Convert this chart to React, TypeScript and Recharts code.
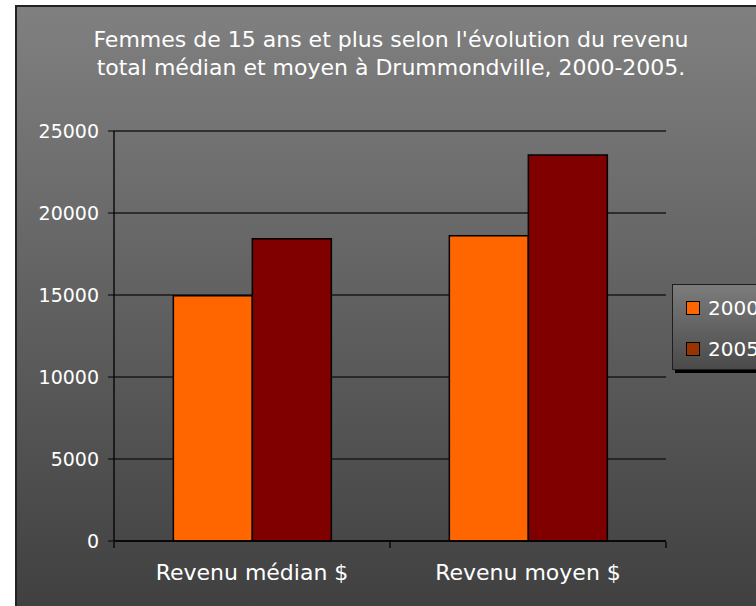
import { Bar, BarChart, CartesianGrid, XAxis, YAxis } from "recharts";

const categories = ["Revenu médian $", "Revenu moyen $"];
const categoryPos = [0.5, 1.5];
const values2000 = [14950, 18620];
const values2005 = [18430, 23540];
const seriesNames = ["2000", "2005"];
const yTicks = [0, 5000, 10000, 15000, 20000, 25000];
const edgeTicks = [0, 1, 2];
const titleLines = [
  "Femmes de 15 ans et plus selon l'évolution du revenu",
  "total médian et moyen à Drummondville, 2000-2005.",
];

const FONT = '"DejaVu Sans", sans-serif';
const barColors = ["#ff6600", "#800000"];
const legendColors = ["#ff6600", "#993300"];

const data = categories.map((name, i) => ({
  name,
  pos: categoryPos[i],
  v2000: values2000[i],
  v2005: values2005[i],
}));

function LegendBox() {
  return (
    <div
      style={{
        position: "absolute",
        left: 672,
        top: 284,
        width: 120,
        height: 84,
        border: "1px solid #1e1e1e",
        background: "linear-gradient(#7c7c7c, #4a4a4a)",
        boxShadow: "3px 3px 0 #000",
      }}
    >
      {seriesNames.map((s, i) => (
        <div
          key={s}
          style={{
            position: "absolute",
            left: 13,
            top: 13 + i * 41,
            display: "flex",
            alignItems: "center",
          }}
        >
          <div
            style={{
              width: 12,
              height: 12,
              background: legendColors[i],
              border: "1px solid #000",
            }}
          />
          <span
            style={{
              marginLeft: 8,
              color: "#fff",
              fontSize: 20,
              fontFamily: FONT,
              lineHeight: "20px",
            }}
          >
            {s}
          </span>
        </div>
      ))}
    </div>
  );
}

export default function App() {
  return (
    <div
      style={{
        position: "fixed",
        left: 0,
        top: 0,
        width: 756,
        height: 606,
        overflow: "hidden",
        background: "#fff",
      }}
    >
      <div
        style={{
          position: "absolute",
          left: 15,
          top: 5,
          width: 800,
          height: 640,
          borderLeft: "2px solid #222",
          borderTop: "2px solid #222",
          background: "linear-gradient(#808080, #3c3c3c)",
        }}
      />
      <div
        style={{
          position: "absolute",
          left: 0,
          top: 26,
          width: 782,
          textAlign: "center",
          color: "#fff",
          fontFamily: FONT,
          fontSize: 22,
          lineHeight: "28px",
        }}
      >
        {titleLines.map((t) => (
          <div key={t}>{t}</div>
        ))}
      </div>
      <div style={{ position: "absolute", left: 0, top: 0 }}>
        <BarChart
          width={756}
          height={606}
          data={data}
          margin={{ top: 131, right: 90, bottom: 25, left: 14 }}
          barGap={0}
          barCategoryGap="21.5%"
        >
          <CartesianGrid vertical={false} stroke="#1a1a1a" strokeWidth={1.3} />
          <XAxis
            dataKey="name"
            height={1}
            axisLine={{ stroke: "#000", strokeWidth: 1.3 }}
            tickLine={false}
            tickMargin={17}
            tick={{ fill: "#fff", fontSize: 22, fontFamily: FONT }}
          />
          <XAxis
            xAxisId="edge"
            dataKey="pos"
            type="number"
            domain={[0, 2]}
            allowDataOverflow
            ticks={edgeTicks}
            height={39}
            axisLine={false}
            tick={() => <g />}
            tickLine={{ stroke: "#000", strokeWidth: 1.3 }}
            tickSize={6}
          />
          <YAxis
            width={100}
            domain={[0, 25000]}
            ticks={yTicks}
            interval={0}
            axisLine={{ stroke: "#000", strokeWidth: 1.3 }}
            tickLine={{ stroke: "#000" }}
            tickSize={6}
            tickMargin={9}
            tick={{ fill: "#fff", fontSize: 19, fontFamily: FONT }}
          />
          <Bar
            dataKey="v2000"
            name={seriesNames[0]}
            fill={barColors[0]}
            stroke="#000"
            strokeWidth={1.5}
            isAnimationActive={false}
          />
          <Bar
            dataKey="v2005"
            name={seriesNames[1]}
            fill={barColors[1]}
            stroke="#000"
            strokeWidth={1.5}
            isAnimationActive={false}
          />
        </BarChart>
      </div>
      <LegendBox />
    </div>
  );
}
